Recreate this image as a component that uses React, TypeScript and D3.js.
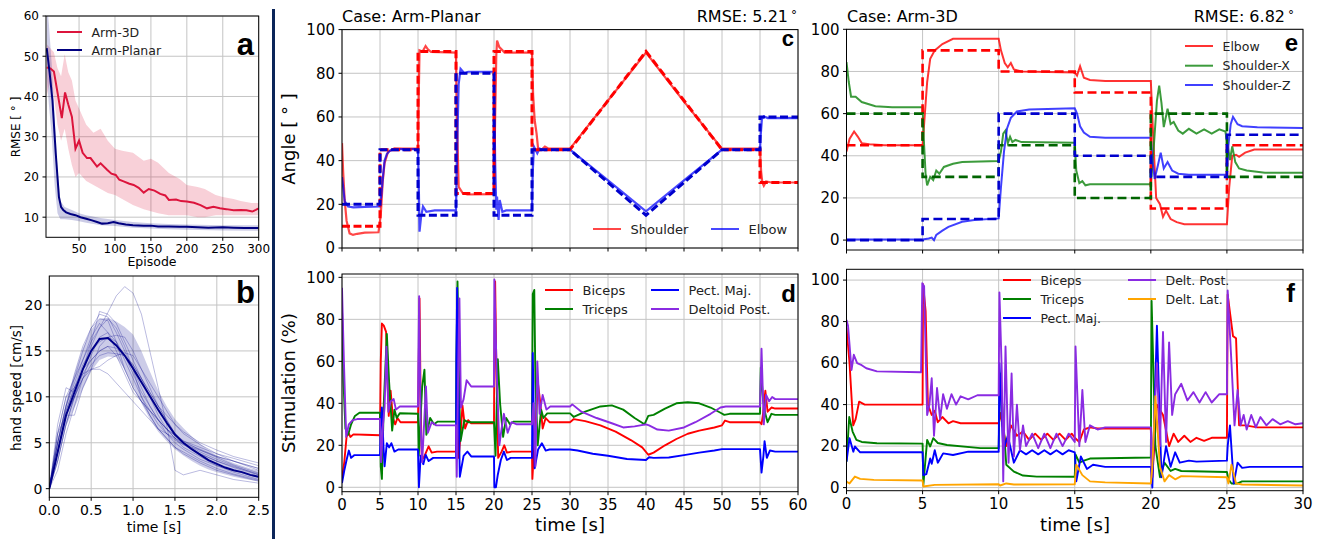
import React from "react";
import * as d3 from "d3";

type P = [number, number];
const FONT = "DejaVu Sans, Liberation Sans, sans-serif";
const BOLD_FONT = "Liberation Sans, Arial, sans-serif";

// ---------------- Panel a : RMSE vs episode ----------------
const rmse3DMean: P[] = [[5,47.2],[10,47],[15,46.2],[20,41],[26,34.6],[30.5,41],[35,38],[40,35],[45,27],[50,29],[55,26],[61,24.7],[66,24.7],[75,22.6],[80,23.4],[89,21.8],[95,20.8],[101,20.5],[106,19.3],[112,18.9],[120,18.3],[126,18],[133,17.3],[140,16.1],[147,17],[155,16.6],[163,15.8],[170,15.4],[175,14.3],[185,14.4],[192,14],[200,13.9],[210,13.6],[219,13],[228,12.2],[237,12.6],[246,12.2],[255,12],[265,11.7],[275,11.8],[283,11.7],[291,11.4],[296,11.8],[300,12.2]];
const band3DEpisodes = [5,10,15,20,25,30,35,40,45,50,60,70,80,90,100,110,125,140,150,160,175,190,200,215,225,240,250,265,275,290,300];
const band3DUpper = [53,52,51,47,45,50.5,46,44,39,37,33,31,32,29,27,26.5,26,24,24.5,23.5,21,19.5,18,17.5,17,15.5,15,14.5,14,13.5,13.5];
const band3DLower = [40,44,40,33,29,32,27,23,20,21,19,18,17,16,15.5,14.5,13,12,11.5,11,10.5,10.5,10.5,10,10,10.5,10.5,10.5,10.5,10.5,10.5];
const rmsePlanarMean: P[] = [[5,52],[9,46],[13,39],[17.5,26],[22,15],[25,12.5],[28,11.8],[32,11.2],[38,10.8],[45,10.5],[52,10],[60,9.6],[68,9.2],[75,8.8],[82,8.4],[90,8.5],[98,8.8],[105,8.5],[115,8.2],[125,8],[140,7.9],[150,7.9],[160,7.7],[175,7.7],[190,7.6],[200,7.6],[215,7.5],[230,7.4],[250,7.5],[265,7.4],[280,7.3],[300,7.3]];
const bandPlanarEpisodes = [5,8,12,16,20,24,30,40,50,60,80,100,125,150,175,200,250,300];
const bandPlanarUpper = [64,58,48,35,22,14,12.5,11.8,11,10.5,9.8,9.3,8.8,8.5,8.3,8.2,8,8];
const bandPlanarLower = [45,38,30,18,11,9.5,9.5,9.3,9,8.6,8,7.8,7.4,7.2,7,6.9,6.7,6.6];
const aXTicks = [50,100,150,200,250,300];
const aYTicks = [10,20,30,40,50,60];

// ---------------- Panel b : hand speed ----------------
const meanTimes = [0,0.1,0.2,0.3,0.4,0.5,0.6,0.7,0.8,0.9,1.0,1.1,1.2,1.3,1.4,1.5,1.6,1.7,1.8,1.9,2.0,2.1,2.2,2.3,2.4,2.5];
const speedMean = [0,4,8,10.5,13,15,16.3,16.4,15.6,14.5,13.1,11.6,10.1,8.6,7.2,5.9,5.0,4.3,3.7,3.1,2.7,2.3,2.0,1.8,1.5,1.3];
const speedUpper = [0.5,5.5,9.5,12.5,15.3,17.3,18.5,18.6,18.2,17.6,16.8,15,12.8,10.7,9,7.6,6.6,5.7,4.9,4.2,3.6,3.2,2.8,2.5,2.2,2.0];
const speedLower = [0,2.8,6.8,8.8,10.8,12.8,14,14.4,14.3,13,11.2,9.3,7.6,6.2,5.2,4.3,3.6,3,2.5,2.1,1.8,1.55,1.3,1.1,0.95,0.8];
const trialTimes = [0,0.1,0.2,0.3,0.4,0.5,0.6,0.7,0.8,0.9,1.0,1.1,1.2,1.3,1.4,1.5,1.6,1.8,2.0,2.2,2.5];
const speedTrials = [
  [0,5,9,11.5,14,16.5,18,17,15,13,11,9.5,8.5,7.5,6.5,5.8,5,4,3.2,2.5,1.5],
  [0,3,7,10,13,15.5,17.5,19.2,21,22,21.3,19,15,11,7,2,1.5,2,1.5,1,0.6],
  [0,6,10,11,12.5,13,13,12.5,11.5,10.5,9.5,8.5,7.5,6.5,6,5.5,5,4.3,3.5,3,2.2],
  [0,4,8,10,12,13.5,14.5,14.8,14.7,14.5,13.5,12,10.5,9,7.5,6,5.2,4.5,3.8,3.3,2.5],
  [0,7,11,10.5,13,16,19.3,19,18,16,14,12,10,8,6.5,5.5,4.5,3.5,2.5,2,1.2],
  [0,5,9,12,15,17.5,19,18.7,17,15,13,11,9,7.5,6,5,4.3,3.2,2.5,1.8,1],
  [0,4,8.5,11,13.5,15,16,16.5,16.7,16.5,15,13,11,9,7.5,6,5,3.8,3,2.4,1.6],
  [0,6,8,8,11,13,15.5,16.5,16,14,12,10,8.5,7,6,5.3,4.8,4.2,3.5,3,2.2],
  [0,3,7,10,12.5,14,15,15.5,15.3,14.5,13.5,12,10.5,9,8,7,6.2,5,4.2,3.5,2.8],
  [0,5,9,12.5,15.5,17.5,18.5,18.3,16,13,11,9.5,8,6.5,5.5,4.5,3.8,2.8,2,1.5,0.8],
  [0,4,8,10,12,13,13.3,14,14.5,14.8,14.5,13,11.5,10,8.5,7,6,4.8,3.8,3,2],
  [0,5,8.5,11,13,14,15,15.5,14.5,12.5,10.5,9.5,8.5,7.5,6.5,5.5,4.8,3.8,3,2.3,1.5],
  [0,6,10,12,14,16,17.5,18.5,17.5,15.5,13,10,8,6.5,5.5,4.5,4,3,2.2,1.6,0.9],
  [0,2,6,9,12,14.5,16.5,17,16,14.5,12.5,10.5,9,7.5,6.5,5.8,5.2,4.2,3.4,2.6,1.7],
];
const bXTicks = [0,0.5,1,1.5,2,2.5];
const bYTicks = [0,5,10,15,20];

// ---------------- Panel c : Arm-Planar angles ----------------
const cShoulderTarget: P[] = [[0,10],[5,10],[5,45],[10,45],[10,90],[15,90],[15,25],[20,25],[20,90],[25,90],[25,45],[30,45],[40,90],[50,45],[55,45],[55,30],[60,30]];
const cElbowTarget: P[] = [[0,20],[5,20],[5,45],[10,45],[10,15],[15,15],[15,80],[20,80],[20,15],[25,15],[25,45],[30,45],[40,15],[50,45],[55,45],[55,60],[60,60]];
const cShoulder: P[] = [[0,48],[0.15,35],[0.35,22],[0.6,12.5],[1,6.7],[1.45,6],[2,6.5],[3,7],[4.8,7.2],[5.1,15],[5.35,30],[5.6,38.8],[6.05,44],[6.9,45.6],[8,45.5],[10,45.5],[10.1,70],[10.2,90.5],[10.6,90],[11,92.5],[11.3,91],[11.7,89.8],[15,89.5],[15.12,60],[15.35,28],[15.9,25],[16.5,24.5],[20,24.7],[20.15,60],[20.3,88],[20.4,95],[20.7,92],[21.4,89.5],[25,89.5],[25.15,70],[25.35,58.6],[25.6,52.5],[25.8,45.6],[26.2,44.8],[26.7,46.4],[27.2,45.5],[30,45.5],[35,67.5],[40,89.5],[45,67],[50,45.5],[55,45.5],[55.15,35],[55.3,30],[55.5,28.5],[55.8,30.5],[56.5,30],[60,30]];
const cElbow: P[] = [[0,32.5],[0.15,28],[0.35,21.5],[0.8,19],[1.5,18.6],[3,18.8],[5,19],[5.2,25],[5.4,33],[5.6,40],[5.9,43],[6.3,44.5],[7,45.3],[10,45.3],[10.1,30],[10.2,7.5],[10.4,14],[10.66,19],[11.1,16.6],[12.2,17.2],[15,17.2],[15.15,45],[15.35,75],[15.6,82],[16.1,80],[16.6,80.7],[20,80.7],[20.15,40],[20.3,17.5],[20.4,23.5],[20.6,12.8],[20.75,22],[21.1,16.6],[21.6,17.2],[25,17.2],[25.1,35],[25.26,46.4],[25.7,43.4],[26,45.5],[26.5,45],[30,45],[35,31],[40,16.8],[45,31],[50,45],[55,45],[55.1,52],[55.25,59],[55.5,60.3],[56,59.5],[60,59.5]];
const cdXTicks = [0,5,10,15,20,25,30,35,40,45,50,55,60];
const angleYTicks = [0,20,40,60,80,100];

// ---------------- Panel d : Arm-Planar stimulation ----------------
const dBiceps: P[] = [[0,4],[0.3,12],[0.6,24],[0.85,26],[1.1,24],[1.5,25.2],[3,25],[5,24.8],[5.1,60],[5.25,78],[5.5,77],[5.8,74],[6.0,50],[6.15,34],[6.4,46],[6.7,33],[7.0,30],[7.3,33],[7.7,31],[10,31],[10.1,60],[10.2,90],[10.35,40],[10.5,13],[10.8,14.5],[11.1,17],[11.4,19.5],[11.8,16.5],[12.5,17],[15,17],[15.15,34],[15.35,14],[15.6,25],[15.85,39],[16.2,28],[16.6,32],[17,30.5],[20,30.5],[20.05,60],[20.15,98],[20.3,60],[20.55,14],[21,17],[21.35,20],[21.7,16.5],[22.3,17],[25,17],[25.05,4],[25.3,20],[25.55,35],[25.8,49],[26.1,40],[26.4,28],[26.8,33],[27.3,31],[30,31],[30.5,32.5],[32,31.5],[34,29.5],[36,26.5],[38,22.5],[39.5,19],[40.3,15.5],[41,16.5],[42.5,20],[44,23],[45.5,25.5],[47,27],[49,28.5],[50,29.5],[50.4,31.8],[51,31],[55,31],[55.2,30],[55.4,35],[55.7,46],[56,36],[56.5,38],[57,37.5],[60,37.5]];
const dTriceps: P[] = [[0,85],[0.2,50],[0.45,28],[0.8,25],[1.2,30],[1.7,34],[2.3,35.5],[5,35.5],[5.1,10],[5.25,4],[5.5,40],[5.9,73],[6.2,50],[6.6,27],[6.9,37],[7.2,33],[7.6,35.3],[10,35],[10.1,15],[10.3,30],[10.55,48],[10.85,56],[11.1,25],[11.6,33],[12.1,30],[12.6,31.3],[15,31.3],[15.05,60],[15.2,98],[15.45,40],[15.6,22],[16.1,32],[16.6,31],[20,31],[20.2,15],[20.5,61],[20.8,40],[21.2,24],[21.6,33],[22.1,30],[22.6,31.3],[25,31.3],[25.1,92],[25.3,94],[25.45,50],[25.75,20],[26.2,37],[26.5,33],[27,35.2],[30,35.2],[30.5,33.5],[32,36],[34,38.5],[35.5,39],[37,37],[38.5,33],[39.8,30],[40.3,34],[41,34.5],[42.5,37.5],[44,40],[45.5,40.5],[47,40],[48.5,38],[49.8,35.5],[50.3,34.5],[51,35],[55,35],[55.1,57],[55.4,42],[55.7,35],[56,31],[56.5,35],[57,34.5],[60,34.5]];
const dPect: P[] = [[0,2],[0.3,8],[0.6,13],[0.9,17.5],[1.2,14],[1.6,15.3],[5,15.3],[5.1,30],[5.25,38],[5.45,20],[5.6,10],[5.9,21],[6.2,19],[6.5,21],[6.9,17],[7.4,18],[10,18],[10.05,10],[10.12,0],[10.35,15],[10.7,11],[11.0,15.5],[11.4,12.5],[12,14],[15,14],[15.05,60],[15.15,95],[15.35,40],[15.5,5],[16,15],[16.5,17],[17,14.7],[20,14.7],[20.05,0],[20.25,0],[20.5,6],[20.9,13],[21.3,17],[21.7,13],[22.2,14],[25,14],[25.1,64],[25.35,9],[25.8,18],[26.3,21],[26.8,17.5],[27.3,18],[30,18],[31,17.5],[33,16],[35,15],[37.5,13.5],[40,13],[40.4,14.3],[41,14],[43,14.2],[45,15.3],[47,16.5],[49,17.5],[50,18.2],[55,18.2],[55.2,7],[55.45,15],[55.6,22],[55.9,14],[56.3,17.5],[57,17],[60,17]];
const dDeltoid: P[] = [[0,95],[0.25,60],[0.55,24],[0.9,30],[1.4,32],[2,32.5],[5,32.5],[5.15,12],[5.4,30],[5.6,38],[5.85,67],[6.1,36],[6.4,41],[6.8,42],[7.1,37],[7.6,38.5],[10,38.5],[10.05,60],[10.15,91],[10.35,30],[10.55,12],[10.8,30],[11.05,48],[11.3,26],[11.8,31],[12.4,29.5],[15,29.5],[15.1,5],[15.3,60],[15.45,90],[15.65,38],[16,42],[16.4,51],[17,48],[20,48],[20.05,99],[20.35,55],[20.7,20],[21,28],[21.3,35],[21.8,26],[22.3,31],[23,30],[25,30],[25.2,40],[25.45,10],[25.7,60],[26,35],[26.4,44],[26.9,37],[27.4,38.5],[30,38.5],[30.3,39.5],[31.5,36],[33.5,33],[35.5,30.5],[37,28.5],[38.5,29],[40,30],[40.4,29.5],[41.5,27.5],[43,27],[45,28.5],[46.5,31],[48.5,35],[49.8,38],[50.5,38.5],[55,38.5],[55.2,66],[55.5,30],[55.8,44],[56.2,41],[56.6,43],[57,42],[60,42]];

// ---------------- Panel e : Arm-3D angles ----------------
const eElbowTarget: P[] = [[0,45],[5,45],[5,90],[10,90],[10,80],[15,80],[15,70],[20,70],[20,15],[25,15],[25,45],[30,45]];
const eShoulderXTarget: P[] = [[0,60],[5,60],[5,30],[10,30],[10,45],[15,45],[15,20],[20,20],[20,60],[25,60],[25,30],[30,30]];
const eShoulderZTarget: P[] = [[0,0],[5,0],[5,10],[10,10],[10,60],[15,60],[15,40],[20,40],[20,30],[25,30],[25,50],[30,50]];
const eElbow: P[] = [[0,42],[0.2,48],[0.5,51.5],[0.75,49],[1.0,46],[1.5,45.5],[2.5,45],[5,45],[5.1,55],[5.3,75],[5.5,86],[5.8,90],[6.3,93],[7,95.5],[10,95.5],[10.15,90],[10.4,84],[10.6,82],[10.8,84],[11,81],[11.5,80],[15,79.5],[15.15,78],[15.35,82.5],[15.6,77],[16,76],[17,75.5],[20,75.5],[20.15,50],[20.35,20],[20.6,17],[20.8,11],[21,14],[21.3,10],[21.7,8.5],[22.2,7.5],[25,7.5],[25.15,25],[25.35,40],[25.6,40.5],[25.8,39.5],[26.2,41.5],[26.8,43],[30,43]];
const eShoulderX: P[] = [[0,84.4],[0.15,75],[0.3,68],[0.6,68],[1.0,65.5],[1.9,63.5],[3,63],[5,63],[5.1,45],[5.2,31],[5.3,26],[5.5,30],[5.7,28.5],[5.9,33],[6.1,31.5],[6.4,34.7],[7,36.2],[7.6,37],[10,37.5],[10.15,42],[10.3,50.5],[10.45,52],[10.6,46],[10.75,49],[10.9,46.5],[11.1,47.5],[11.5,46.5],[15,46.2],[15.1,33],[15.3,27],[15.5,28],[15.7,26],[16,26.5],[20,26.5],[20.2,45],[20.4,66],[20.55,73.3],[20.7,65],[20.85,53.6],[21.1,62.3],[21.3,55],[21.5,56],[21.8,52],[22.1,50.5],[22.5,52.8],[23,50.5],[23.5,52.5],[24,50.5],[24.5,52.5],[24.9,51.5],[25.05,45],[25.2,38],[25.35,44.5],[25.55,37],[25.8,34],[26.3,33],[27.5,32],[30,32]];
const eShoulderZ: P[] = [[0,0.3],[5,0.3],[5.4,0.8],[5.6,1.2],[5.75,0],[5.9,2.5],[6.3,4.5],[6.7,6.3],[7.6,8.7],[8.4,9.5],[10,10.3],[10.15,25],[10.35,42],[10.55,53],[10.8,58],[11.2,61],[12,62],[15,62.5],[15.15,60],[15.35,54],[15.6,51],[16,49],[17,48.5],[20,48.5],[20.1,38],[20.25,29],[20.45,35],[20.65,41.5],[20.85,34],[21.1,37],[21.4,33],[21.8,31.5],[22.5,31],[25,31],[25.1,45],[25.25,55],[25.4,58.5],[25.7,55],[26,54],[27,53.5],[30,53.2]];
const efXTicks = [0,5,10,15,20,25,30];

// ---------------- Panel f : Arm-3D stimulation ----------------
const fBiceps: P[] = [[0,77],[0.2,60],[0.44,30],[0.6,33],[0.83,41.4],[1.2,40],[5,40],[5.03,98],[5.2,85],[5.35,40],[5.6,35],[5.8,37],[6.0,31.5],[6.3,34],[6.7,31],[7,32],[7.5,31],[10,31],[10.1,36],[10.3,28],[10.5,20],[10.8,30],[11.2,25],[11.6,27],[12,23],[12.4,26],[12.8,23],[13.2,26],[13.6,23],[14,26],[14.4,23],[14.8,26],[15,24],[15.3,22],[15.6,28],[16,29],[16.5,28.5],[20,28.5],[20.1,5],[20.4,40],[20.8,35],[21.2,20],[21.5,26],[21.8,22],[22.2,25],[22.6,22],[23,24],[23.5,22.5],[24,24],[25,24],[25.05,93],[25.4,73],[25.6,72],[25.8,30],[26.2,30],[27,29],[30,29]];
const fTriceps: P[] = [[0,12.5],[0.18,34],[0.4,27],[0.65,23],[1,22],[2,21.4],[5,21.2],[5.05,1.3],[5.3,23],[5.5,19.8],[5.7,23.8],[6.0,21.5],[6.6,20.5],[8.8,19],[10,19],[10.1,55],[10.5,11],[11,7.7],[11.6,5.8],[12.5,5.3],[15,5.2],[15.05,16],[15.3,12],[15.6,13],[16,14],[20,14.5],[20.05,90],[20.3,20],[20.6,5],[20.9,12],[21.3,8],[21.6,9],[22,8],[25,7.5],[25.1,4],[25.3,2],[25.7,2],[26,3],[30,3]];
const fPect: P[] = [[0,12.5],[0.2,23.8],[0.45,17.3],[0.55,19.8],[0.9,17],[1.5,17],[5,17],[5.05,6],[5.25,6.5],[5.5,14],[5.6,11.5],[5.8,18],[6.0,12],[6.35,16.5],[7,15.7],[8,17.3],[10,17.3],[10.05,60],[10.3,18],[10.6,25],[11,12],[11.4,18],[11.8,16],[12.2,18],[12.6,16],[13,18],[13.4,16],[13.8,18],[14.2,16],[14.6,18],[15,17],[15.1,3],[15.4,15],[15.8,9],[16.2,11],[17,10],[20,10],[20.1,0],[20.4,78],[20.7,5],[21,20],[21.3,10],[21.6,17],[21.9,12],[22.5,13],[23,12.5],[25,13],[25.05,20],[25.2,30],[25.45,2],[25.7,12],[26,9.5],[26.5,10],[30,10]];
const fDeltPost: P[] = [[0,80.8],[0.1,78],[0.33,56.7],[0.48,64],[0.7,60],[1.0,59],[1.3,57.5],[2,56],[4.9,55.6],[4.98,98.5],[5.1,97],[5.3,35],[5.45,40],[5.6,52.7],[5.75,25],[5.95,48],[6.15,33],[6.35,45],[6.6,38],[6.9,45],[7.2,40],[7.5,44],[8,42.5],[8.6,44.5],[10,44.5],[10.05,94],[10.2,57],[10.3,3],[10.45,68],[10.65,12],[10.85,55],[11,15],[11.2,40],[11.4,18],[11.6,30],[11.8,20],[12.2,26],[12.6,19],[13,26],[13.4,19],[13.8,26],[14.2,20],[14.6,26],[15,22],[15.05,68],[15.3,20],[15.5,47],[15.7,22],[16,30],[16.5,28],[17,29],[20,29],[20.05,5],[20.4,60],[20.6,20],[20.8,75],[21,22],[21.2,70],[21.4,35],[21.6,45],[22,50],[22.4,42],[22.8,46],[23.2,41],[23.6,46],[24,41],[24.5,45],[25,45],[25.05,95],[25.3,60],[25.5,30],[25.7,47],[25.9,30],[26.1,35],[26.3,28],[26.6,35],[26.9,29],[27.2,34],[27.6,30],[28,33],[28.5,30.5],[29,32],[29.5,30.5],[30,31]];
const fDeltLat: P[] = [[0,2.9],[0.2,2],[0.55,5.3],[0.9,4.2],[1.8,3.7],[5,3.4],[5.05,0.5],[5.8,1.3],[10,1.6],[10.1,1],[10.5,2],[11,1.5],[15,1.6],[15.1,11],[15.5,6],[16,3],[17,2.5],[20,2],[20.1,10],[20.3,44],[20.6,10],[20.9,3],[21.2,6],[21.6,4],[22,5.5],[25,5],[25.1,2],[25.3,11],[25.6,2],[26,1.5],[30,1]];
const stimYTicks = [0,20,40,60,80,100];

// ---------------- helpers ----------------
const TL = 3.5;
const PAD = 3.5;

function Grid({ x, y, xTicks, yTicks }: any) {
  const [left, right] = x.range();
  const [bottom, top] = y.range();
  return (
    <g>
      {xTicks.map((t: number) => (
        <line key={"gx" + t} x1={x(t)} x2={x(t)} y1={top} y2={bottom} stroke="#c4c4c4" strokeWidth={1} />
      ))}
      {yTicks.map((t: number) => (
        <line key={"gy" + t} x1={left} x2={right} y1={y(t)} y2={y(t)} stroke="#c4c4c4" strokeWidth={1} />
      ))}
    </g>
  );
}

function Axes({ x, y, xTicks, yTicks, xFmt, yFmt, xLabels = true, fs }: any) {
  const [left, right] = x.range();
  const [bottom, top] = y.range();
  return (
    <g fontFamily={FONT} fontSize={fs} fill="#000">
      <rect x={left} y={top} width={right - left} height={bottom - top} fill="none" stroke="#000" strokeWidth={1} />
      {xTicks.map((t: number) => (
        <g key={"tx" + t}>
          <line x1={x(t)} x2={x(t)} y1={bottom} y2={bottom + TL} stroke="#000" strokeWidth={1} />
          {xLabels && (
            <text x={x(t)} y={bottom + TL + PAD + fs * 0.76} textAnchor="middle">{xFmt(t)}</text>
          )}
        </g>
      ))}
      {yTicks.map((t: number) => (
        <g key={"ty" + t}>
          <line x1={left - TL} x2={left} y1={y(t)} y2={y(t)} stroke="#000" strokeWidth={1} />
          <text x={left - TL - PAD} y={y(t) + fs * 0.36} textAnchor="end">{yFmt(t)}</text>
        </g>
      ))}
    </g>
  );
}

function Clip({ id, x, y }: any) {
  const [left, right] = x.range();
  const [bottom, top] = y.range();
  return (
    <clipPath id={id}>
      <rect x={left} y={top} width={right - left} height={bottom - top} />
    </clipPath>
  );
}

function Legend({ x, y, color, text, fs, len, width = 2, opacity = 1 }: any) {
  return (
    <g>
      <line x1={x} x2={x + len} y1={y} y2={y} stroke={color} strokeWidth={width} strokeOpacity={opacity} />
      <text x={x + len + 9.5} y={y + fs * 0.36} fontFamily={FONT} fontSize={fs} fill="#222">{text}</text>
    </g>
  );
}

function PanelLetter({ x, y, size, children }: any) {
  return (
    <text x={x} y={y} textAnchor="end" fontFamily={BOLD_FONT} fontWeight="bold" fontSize={size} fill="#000">{children}</text>
  );
}

const fmtInt = (v: number) => String(v);

// ---------------- panels ----------------
function PanelA() {
  const x = d3.scaleLinear().domain([4, 300]).range([46, 258.7]);
  const y = d3.scaleLinear().domain([5, 60]).range([237.3, 16]);
  const line = d3.line<P>().x((d) => x(d[0])).y((d) => y(d[1]));
  const area = d3.area<number>().x((d, i) => x(band3DEpisodes[i])).y0((d, i) => y(band3DLower[i])).y1((d) => y(d));
  const areaP = d3.area<number>().x((d, i) => x(bandPlanarEpisodes[i])).y0((d, i) => y(bandPlanarLower[i])).y1((d) => y(d));
  return (
    <g>
      <defs><Clip id="clipA" x={x} y={y} /></defs>
      <Grid x={x} y={y} xTicks={aXTicks} yTicks={aYTicks} />
      <g clipPath="url(#clipA)">
        <path d={area(band3DUpper) || ""} fill="#dc143c" fillOpacity={0.2} />
        <path d={areaP(bandPlanarUpper) || ""} fill="#000080" fillOpacity={0.2} />
        <path d={line(rmse3DMean) || ""} fill="none" stroke="#dc143c" strokeWidth={2} />
        <path d={line(rmsePlanarMean) || ""} fill="none" stroke="#000080" strokeWidth={2} />
      </g>
      <Axes x={x} y={y} xTicks={aXTicks} yTicks={aYTicks} xFmt={fmtInt} yFmt={fmtInt} fs={12} />
      <Legend x={57} y={32} color="#dc143c" text="Arm-3D" fs={12.5} len={25} />
      <Legend x={57} y={50} color="#000080" text="Arm-Planar" fs={12.5} len={25} />
      <PanelLetter x={254} y={55} size={31}>a</PanelLetter>
      <text transform="translate(20,127) rotate(-90)" textAnchor="middle" fontFamily={FONT} fontSize={12}>RMSE [ ° ]</text>
      <text x={152} y={266} textAnchor="middle" fontFamily={FONT} fontSize={12.5}>Episode</text>
    </g>
  );
}

function PanelB() {
  const x = d3.scaleLinear().domain([0, 2.5]).range([49.3, 258.7]);
  const y = d3.scaleLinear().domain([-0.94, 23.16]).range([497.3, 276]);
  const area = d3.area<number>().x((d, i) => x(meanTimes[i])).y0((d, i) => y(speedLower[i])).y1((d) => y(d));
  const line = d3.line<number>().x((d, i) => x(meanTimes[i])).y((d) => y(d));
  const tline = d3.line<number>().x((d, i) => x(trialTimes[i])).y((d) => y(d));
  return (
    <g>
      <defs><Clip id="clipB" x={x} y={y} /></defs>
      <Grid x={x} y={y} xTicks={bXTicks} yTicks={bYTicks} />
      <g clipPath="url(#clipB)">
        <path d={area(speedUpper) || ""} fill="#00008b" fillOpacity={0.2} />
        {speedTrials.map((tr, i) => (
          <path key={i} d={tline(tr) || ""} fill="none" stroke="#00008b" strokeOpacity={0.3} strokeWidth={0.9} />
        ))}
        <path d={line(speedMean) || ""} fill="none" stroke="#00008b" strokeWidth={2} />
      </g>
      <Axes x={x} y={y} xTicks={bXTicks} yTicks={bYTicks} xFmt={(v: number) => v.toFixed(1)} yFmt={fmtInt} fs={14} />
      <PanelLetter x={255} y={303} size={31}>b</PanelLetter>
      <text transform="translate(21,388) rotate(-90)" textAnchor="middle" fontFamily={FONT} fontSize={13.5}>hand speed [cm/s]</text>
      <text x={154} y={532} textAnchor="middle" fontFamily={FONT} fontSize={14}>time [s]</text>
    </g>
  );
}

function PanelC() {
  const x = d3.scaleLinear().domain([0, 60]).range([342, 798]);
  const y = d3.scaleLinear().domain([0, 100]).range([248, 29.6]);
  const line = d3.line<P>().x((d) => x(d[0])).y((d) => y(d[1]));
  return (
    <g>
      <defs><Clip id="clipC" x={x} y={y} /></defs>
      <Grid x={x} y={y} xTicks={cdXTicks} yTicks={angleYTicks} />
      <g clipPath="url(#clipC)">
        <path d={line(cShoulder) || ""} fill="none" stroke="#ff0000" strokeOpacity={0.72} strokeWidth={2.2} />
        <path d={line(cElbow) || ""} fill="none" stroke="#0000ff" strokeOpacity={0.72} strokeWidth={2.2} />
        <path d={line(cShoulderTarget) || ""} fill="none" stroke="#ff0000" strokeWidth={3} strokeDasharray="8 3.5" />
        <path d={line(cElbowTarget) || ""} fill="none" stroke="#0000cd" strokeWidth={3} strokeDasharray="8 3.5" />
      </g>
      <Axes x={x} y={y} xTicks={cdXTicks} yTicks={angleYTicks} xLabels={false} xFmt={fmtInt} yFmt={fmtInt} fs={15} />
      <Legend x={593} y={229} color="#ff0000" opacity={0.72} text="Shoulder" fs={13} len={28} />
      <Legend x={711} y={229} color="#0000ff" opacity={0.72} text="Elbow" fs={13} len={28} />
      <PanelLetter x={794} y={46} size={22}>c</PanelLetter>
      <text x={342} y={22} fontFamily={FONT} fontSize={16}>Case: Arm-Planar</text>
      <text x={797} y={22} textAnchor="end" fontFamily={FONT} fontSize={16}>RMSE: 5.21<tspan dx={3} fontSize={12} dy={-3}>°</tspan></text>
      <text transform="translate(295,139) rotate(-90)" textAnchor="middle" fontFamily={FONT} fontSize={18}>Angle [ ° ]</text>
    </g>
  );
}

function PanelD() {
  const x = d3.scaleLinear().domain([0, 60]).range([342, 798]);
  const y = d3.scaleLinear().domain([-2.1, 101.6]).range([491.7, 274]);
  const line = d3.line<P>().x((d) => x(d[0])).y((d) => y(d[1]));
  const series: [P[], string][] = [[dBiceps, "#ff0000"], [dTriceps, "#008000"], [dPect, "#0000ff"], [dDeltoid, "#8a2be2"]];
  return (
    <g>
      <defs><Clip id="clipD" x={x} y={y} /></defs>
      <Grid x={x} y={y} xTicks={cdXTicks} yTicks={stimYTicks} />
      <g clipPath="url(#clipD)">
        {series.map(([s, c], i) => (
          <path key={i} d={line(s) || ""} fill="none" stroke={c} strokeWidth={1.9} strokeLinejoin="round" />
        ))}
      </g>
      <Axes x={x} y={y} xTicks={cdXTicks} yTicks={stimYTicks} xFmt={fmtInt} yFmt={fmtInt} fs={15} />
      <Legend x={545} y={290} color="#ff0000" text="Biceps" fs={13} len={28} />
      <Legend x={545} y={309} color="#008000" text="Triceps" fs={13} len={28} />
      <Legend x={651} y={290} color="#0000ff" text="Pect. Maj." fs={13} len={28} />
      <Legend x={651} y={309} color="#8a2be2" text="Deltoid Post." fs={13} len={28} />
      <PanelLetter x={796} y={302} size={24}>d</PanelLetter>
      <text transform="translate(295,383) rotate(-90)" textAnchor="middle" fontFamily={FONT} fontSize={18}>Stimulation (%)</text>
      <text x={570} y={531} textAnchor="middle" fontFamily={FONT} fontSize={18}>time [s]</text>
    </g>
  );
}

function PanelE() {
  const x = d3.scaleLinear().domain([0, 30]).range([846.5, 1303]);
  const y = d3.scaleLinear().domain([-4.7, 100]).range([250, 29.3]);
  const line = d3.line<P>().x((d) => x(d[0])).y((d) => y(d[1]));
  return (
    <g>
      <defs><Clip id="clipE" x={x} y={y} /></defs>
      <Grid x={x} y={y} xTicks={efXTicks} yTicks={angleYTicks} />
      <g clipPath="url(#clipE)">
        <path d={line(eElbow) || ""} fill="none" stroke="#ff0000" strokeOpacity={0.8} strokeWidth={2} />
        <path d={line(eShoulderX) || ""} fill="none" stroke="#1a8a1a" strokeOpacity={0.85} strokeWidth={2} />
        <path d={line(eShoulderZ) || ""} fill="none" stroke="#0000ff" strokeOpacity={0.75} strokeWidth={2} />
        <path d={line(eElbowTarget) || ""} fill="none" stroke="#ff0000" strokeWidth={2.6} strokeDasharray="9 4.5" />
        <path d={line(eShoulderXTarget) || ""} fill="none" stroke="#006400" strokeWidth={2.6} strokeDasharray="9 4.5" />
        <path d={line(eShoulderZTarget) || ""} fill="none" stroke="#0000cd" strokeWidth={2.6} strokeDasharray="9 4.5" />
      </g>
      <Axes x={x} y={y} xTicks={efXTicks} yTicks={angleYTicks} xLabels={false} xFmt={fmtInt} yFmt={fmtInt} fs={15} />
      <Legend x={1185} y={46} color="#ff0000" opacity={0.8} text="Elbow" fs={12.5} len={28} />
      <Legend x={1185} y={65.7} color="#1a8a1a" opacity={0.85} text="Shoulder-X" fs={12.5} len={28} />
      <Legend x={1185} y={85} color="#0000ff" opacity={0.75} text="Shoulder-Z" fs={12.5} len={28} />
      <PanelLetter x={1298} y={51} size={24}>e</PanelLetter>
      <text x={847} y={22} fontFamily={FONT} fontSize={16}>Case: Arm-3D</text>
      <text x={1294} y={22} textAnchor="end" fontFamily={FONT} fontSize={16}>RMSE: 6.82<tspan dx={3} fontSize={12} dy={-3}>°</tspan></text>
    </g>
  );
}

function PanelF() {
  const x = d3.scaleLinear().domain([0, 30]).range([846.5, 1303]);
  const y = d3.scaleLinear().domain([-1.5, 105.2]).range([490.7, 269.3]);
  const line = d3.line<P>().x((d) => x(d[0])).y((d) => y(d[1]));
  const series: [P[], string][] = [[fBiceps, "#ff0000"], [fTriceps, "#008000"], [fPect, "#0000ff"], [fDeltPost, "#8a2be2"], [fDeltLat, "#ffa500"]];
  return (
    <g>
      <defs><Clip id="clipF" x={x} y={y} /></defs>
      <Grid x={x} y={y} xTicks={efXTicks} yTicks={stimYTicks} />
      <g clipPath="url(#clipF)">
        {series.map(([s, c], i) => (
          <path key={i} d={line(s) || ""} fill="none" stroke={c} strokeWidth={1.9} strokeLinejoin="round" />
        ))}
      </g>
      <Axes x={x} y={y} xTicks={efXTicks} yTicks={stimYTicks} xFmt={fmtInt} yFmt={fmtInt} fs={15} />
      <Legend x={1003} y={280} color="#ff0000" text="Biceps" fs={12.5} len={28} />
      <Legend x={1003} y={299} color="#008000" text="Triceps" fs={12.5} len={28} />
      <Legend x={1003} y={318} color="#0000ff" text="Pect. Maj." fs={12.5} len={28} />
      <Legend x={1128} y={280} color="#8a2be2" text="Delt. Post." fs={12.5} len={28} />
      <Legend x={1128} y={299} color="#ffa500" text="Delt. Lat." fs={12.5} len={28} />
      <PanelLetter x={1295} y={302} size={26}>f</PanelLetter>
      <text x={1075} y={531} textAnchor="middle" fontFamily={FONT} fontSize={18}>time [s]</text>
    </g>
  );
}

export default function App() {
  return (
    <svg width={1321} height={539} viewBox="0 0 1321 539" style={{ position: "absolute", left: 0, top: 0, display: "block", background: "#fff" }}>
      <rect x={0} y={0} width={1321} height={539} fill="#fff" />
      <PanelA />
      <PanelB />
      <PanelC />
      <PanelD />
      <PanelE />
      <PanelF />
      <line x1={273.5} x2={273.5} y1={9} y2={539} stroke="#0b2559" strokeWidth={3} />
    </svg>
  );
}
